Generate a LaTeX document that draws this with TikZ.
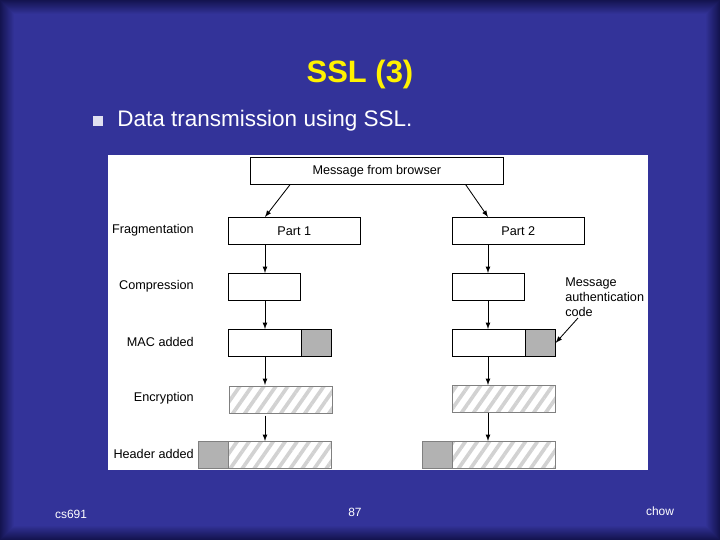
\documentclass[tikz,border=0pt]{standalone}
\usepackage{fontspec}
\setmainfont{Liberation Sans}
\usepackage{tikz}
\usetikzlibrary{positioning}
\usetikzlibrary{patterns.meta}
\definecolor{slideblue}{RGB}{51,51,153}
\definecolor{slideedge}{RGB}{20,20,80}
\definecolor{macgray}{RGB}{178,178,178}

\begin{document}
\begin{tikzpicture}[
        x=0.25mm, y=-0.25mm,
        box/.style={rectangle, draw=black, line width=0.5pt, inner sep=0pt, anchor=north west},
        macbox/.style={box, fill=macgray},
        hatchbox/.style={rectangle, draw=gray, line width=0.5pt, inner sep=0pt, anchor=north west,
            pattern={Lines[angle=55,distance=7pt,line width=2.6pt]}, pattern color=gray!35},
        stage/.style={anchor=east, font=\fontsize{9}{10}\selectfont, inner sep=0pt},
        flow/.style={->, >=latex, line width=0.6pt}
    ]
    \useasboundingbox (0,0) rectangle (720,540);
    % slide background
    \fill[slideedge] (0,0) rectangle (720,540);
    \foreach \i in {0,...,14} {
        \pgfmathsetmacro{\mix}{100*\i/14}
        \fill[slideblue!\mix!slideedge] (\i,\i) rectangle (720-\i,540-\i);
    }
    \node[text=yellow, font=\bfseries\fontsize{22}{26}\selectfont] (title) at (360,75) {SSL (3)};
    \fill[white!85!slideblue] (93,116) rectangle (103,126);
    \node[anchor=west, text=white, font=\fontsize{16}{19}\selectfont, inner sep=0pt] (bullet) at (117,121) {Data transmission using SSL.};

    % figure
    \fill[white] (108,155) rectangle (648,470);
    \node[box, minimum width=253*0.25mm, minimum height=27*0.25mm, font=\fontsize{9}{10}\selectfont] (msg) at (250,157) {Message from browser};

    \node[box, minimum width=132*0.25mm, minimum height=27*0.25mm, font=\fontsize{9}{10}\selectfont] (p1) at (228,217) {Part 1};
    \node[box, minimum width=132*0.25mm, minimum height=27*0.25mm, font=\fontsize{9}{10}\selectfont] (p2) at (452,217) {Part 2};

    \node[box, minimum width=72*0.25mm, minimum height=27*0.25mm] (c1) at (228,273) {};
    \node[box, minimum width=72*0.25mm, minimum height=27*0.25mm] (c2) at (452,273) {};

    \node[box, minimum width=73*0.25mm, minimum height=27*0.25mm] (m1) at (228,329) {};
    \node[macbox, minimum width=30*0.25mm, minimum height=27*0.25mm] (g1) at (301,329) {};
    \node[box, minimum width=73*0.25mm, minimum height=27*0.25mm] (m2) at (452,329) {};
    \node[macbox, minimum width=30*0.25mm, minimum height=27*0.25mm] (g2) at (525,329) {};

    \node[hatchbox, minimum width=103*0.25mm, minimum height=27*0.25mm] (e1) at (228,385) {};
    \node[hatchbox, minimum width=103*0.25mm, minimum height=27*0.25mm] (e2) at (452,385) {};

    \node[hatchbox, minimum width=103*0.25mm, minimum height=27*0.25mm] (h1) at (228,441) {};
    \node[macbox, draw=gray, minimum width=30*0.25mm, minimum height=27*0.25mm] (k1) at (198,441) {};
    \node[hatchbox, minimum width=103*0.25mm, minimum height=27*0.25mm] (h2) at (452,441) {};
    \node[macbox, draw=gray, minimum width=30*0.25mm, minimum height=27*0.25mm] (k2) at (422,441) {};

    \node[stage] (l1) at (194,230) {Fragmentation};
    \node[stage] (l2) at (194,286) {Compression};
    \node[stage] (l3) at (194,342) {MAC added};
    \node[stage] (l4) at (194,398) {Encryption};
    \node[stage] (l5) at (194,454) {Header added};
    \node[anchor=north west, align=left, inner sep=0pt, font=\fontsize{9}{10.5}\selectfont] (mac) at (565,278) {Message\\authentication\\code};
    \coordinate (macend) at (578,318);

    \draw[flow] ([xshift=40*0.25mm]msg.south west) to ([xshift=37*0.25mm]p1.north west);
    \draw[flow] ([xshift=-38*0.25mm]msg.south east) to ([xshift=36*0.25mm]p2.north west);
    \draw[flow] ([xshift=37*0.25mm]p1.south west) to ([xshift=37*0.25mm]c1.north west);
    \draw[flow] ([xshift=36*0.25mm]p2.south west) to ([xshift=36*0.25mm]c2.north west);
    \draw[flow] ([xshift=37*0.25mm]c1.south west) to ([xshift=37*0.25mm]m1.north west);
    \draw[flow] ([xshift=36*0.25mm]c2.south west) to ([xshift=36*0.25mm]m2.north west);
    \draw[flow] ([xshift=37*0.25mm]m1.south west) to ([xshift=37*0.25mm]e1.north west);
    \draw[flow] ([xshift=36*0.25mm]m2.south west) to ([xshift=36*0.25mm]e2.north west);
    \draw[flow] ([xshift=37*0.25mm]e1.south west) to ([xshift=37*0.25mm]h1.north west);
    \draw[flow] ([xshift=36*0.25mm]e2.south west) to ([xshift=36*0.25mm]h2.north west);
    \draw[flow] (macend) to (g2.east);

    % footer
    \node[text=white, font=\fontsize{8.5}{10}\selectfont] (f1) at (71,514) {cs691};
    \node[text=white, font=\fontsize{8.5}{10}\selectfont] (f2) at (355,512) {87};
    \node[text=white, font=\fontsize{8.5}{10}\selectfont] (f3) at (660,511) {chow};
\end{tikzpicture}
\end{document}
